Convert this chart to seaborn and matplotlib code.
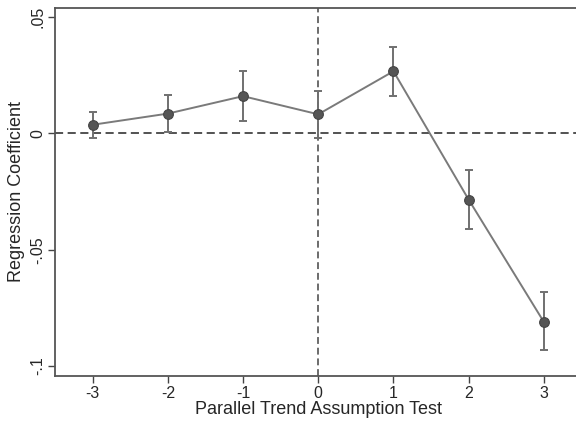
import matplotlib
matplotlib.use("Agg")
import matplotlib.pyplot as plt
import seaborn as sns
import numpy as np
import pandas as pd

periods = [-3, -2, -1, 0, 1, 2, 3]
coef = [0.0037, 0.0085, 0.0160, 0.0082, 0.0267, -0.0285, -0.0811]
ci_low = [-0.0020, 0.0004, 0.0053, -0.0018, 0.0160, -0.0412, -0.0932]
ci_high = [0.0094, 0.0163, 0.0267, 0.0182, 0.0373, -0.0156, -0.0683]
xticks = [-3, -2, -1, 0, 1, 2, 3]
yticks = [-0.1, -0.05, 0, 0.05]
yticklabels = ["-.1", "-.05", "0", ".05"]

sns.set_theme(style="ticks")
plt.rcParams["font.family"] = ["Liberation Sans", "DejaVu Sans"]

df = pd.DataFrame({"period": periods, "coef": coef})

fig = plt.figure(figsize=(5.76, 4.22), dpi=100)
ax = fig.add_axes([55/576, 46/422, 526.5/576, 368/422])

ax.axhline(0, color="#444444", lw=1.3, ls=(0, (4.5, 2.5)), zorder=1)
ax.axvline(0, color="#444444", lw=1.1, ls=(0, (4.5, 2.5)), zorder=1)

lo = np.array(coef) - np.array(ci_low)
hi = np.array(ci_high) - np.array(coef)
ax.errorbar(periods, coef, yerr=[lo, hi], fmt="none", ecolor="#707070",
            elinewidth=1.4, capsize=3, capthick=1.4, zorder=2)
sns.lineplot(data=df, x="period", y="coef", ax=ax, color="#7a7a7a", lw=1.4,
             marker="o", markersize=7, markerfacecolor="#555555",
             markeredgecolor="#444444", markeredgewidth=0.8, zorder=3)

ax.set_xlim(-3.5, 3.5)
ax.set_ylim(-0.1043, 0.0539)
ax.set_xticks(xticks)
ax.set_xticklabels([str(v) for v in xticks], fontsize=11.5)
ax.set_yticks(yticks)
ax.set_yticklabels(yticklabels, fontsize=11.5, rotation=90, va="center")
ax.set_xlabel("Parallel Trend Assumption Test", fontsize=13, labelpad=0)
ax.set_ylabel("Regression Coefficient", fontsize=13, labelpad=4)
ax.tick_params(axis="both", direction="out", length=5, width=1, color="#444444", pad=2)

for s in ["left", "bottom", "top", "right"]:
    ax.spines[s].set_color("#555555")
    ax.spines[s].set_linewidth(1.3)

fig.savefig("out.png", dpi=100)
